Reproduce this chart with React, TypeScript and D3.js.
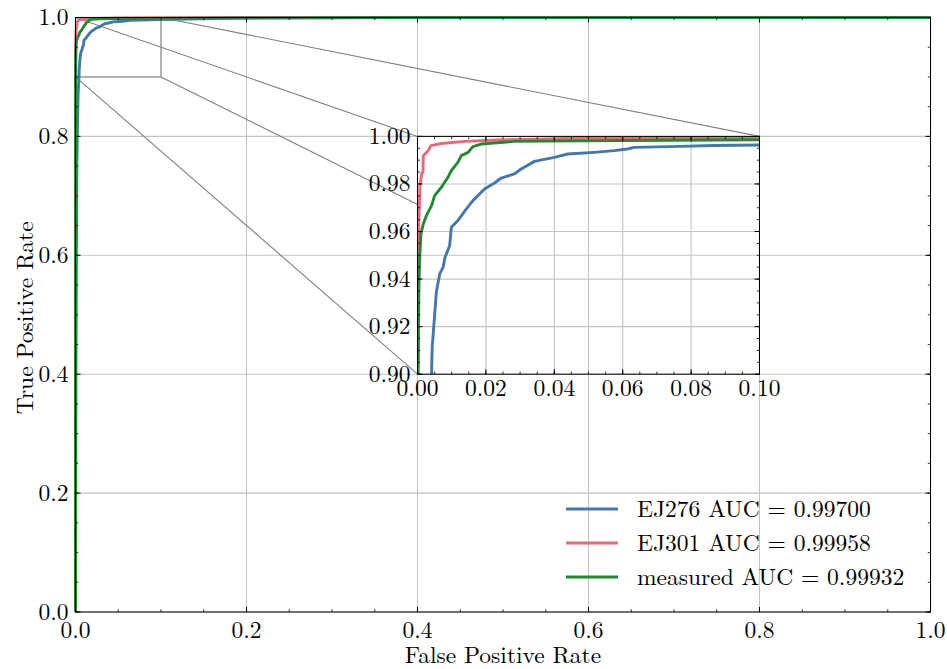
import React from "react";
import * as d3 from "d3";

// ---- data ----
const seriesNames = ["EJ276 AUC = 0.99700", "EJ301 AUC = 0.99958", "measured AUC = 0.99932"];
const seriesColors = ["#4477AA", "#EE6677", "#228833"];

const ej276Fpr = [0, 0.0005, 0.0015, 0.003, 0.0041, 0.0043, 0.0049, 0.0055, 0.0065, 0.0075, 0.008, 0.0094, 0.0099, 0.0118, 0.0143, 0.0162, 0.0196, 0.0225, 0.0245, 0.0283, 0.0303, 0.0342, 0.04, 0.0439, 0.0517, 0.0575, 0.0614, 0.0633, 0.0769, 0.0866, 0.1, 0.13, 0.18, 0.28, 0.4, 1.0];
const ej276Tpr = [0, 0.4, 0.75, 0.87, 0.9, 0.9115, 0.9227, 0.9345, 0.9422, 0.945, 0.949, 0.954, 0.9618, 0.9646, 0.9695, 0.973, 0.9779, 0.9804, 0.9825, 0.9842, 0.9863, 0.9895, 0.9912, 0.9926, 0.9933, 0.994, 0.9947, 0.9954, 0.9958, 0.9962, 0.9964, 0.9975, 0.9988, 0.9996, 1.0, 1.0];

const ej301Fpr = [0, 0, 0.0002, 0.0004, 0.0007, 0.0012, 0.0016, 0.0017, 0.0031, 0.0039, 0.007, 0.0138, 0.0235, 0.038, 0.048, 0.1, 0.2, 1.0];
const ej301Tpr = [0, 0.9, 0.95, 0.9646, 0.9786, 0.9842, 0.985, 0.9919, 0.994, 0.9961, 0.997, 0.9979, 0.9985, 0.9989, 0.9993, 0.9996, 1.0, 1.0];

const measFpr = [0, 0.0001, 0.0002, 0.0004, 0.0007, 0.001, 0.0017, 0.0026, 0.0041, 0.005, 0.007, 0.0089, 0.0099, 0.0118, 0.0128, 0.0148, 0.0162, 0.0186, 0.0283, 0.0478, 0.1, 0.2, 0.4, 1.0];
const measTpr = [0, 0.5, 0.9, 0.9366, 0.9506, 0.959, 0.9632, 0.9667, 0.9709, 0.9751, 0.9786, 0.9828, 0.9856, 0.9891, 0.9919, 0.9933, 0.9957, 0.9968, 0.9979, 0.9982, 0.9986, 0.9994, 1.0, 1.0];

const mainTicks = [0, 0.2, 0.4, 0.6, 0.8, 1.0];
const mainTickLabels = ["0.0", "0.2", "0.4", "0.6", "0.8", "1.0"];
const insetXTicks = [0, 0.02, 0.04, 0.06, 0.08, 0.1];
const insetXTickLabels = ["0.00", "0.02", "0.04", "0.06", "0.08", "0.10"];
const insetYTicks = [0.9, 0.92, 0.94, 0.96, 0.98, 1.0];
const insetYTickLabels = ["0.90", "0.92", "0.94", "0.96", "0.98", "1.00"];
const xLabel = "False Positive Rate";
const yLabel = "True Positive Rate";

const series = [
  { fpr: ej276Fpr, tpr: ej276Tpr },
  { fpr: ej301Fpr, tpr: ej301Tpr },
  { fpr: measFpr, tpr: measTpr },
];

const W = 947;
const H = 669;
const FONT = "'Latin Modern Roman', 'Liberation Serif', serif";
const FS = 23.5;

export default function App() {
  const x = d3.scaleLinear().domain([0, 1]).range([75.5, 930.5]);
  const y = d3.scaleLinear().domain([0, 1]).range([612, 17.5]);
  const ix = d3.scaleLinear().domain([0, 0.1]).range([x(0.4), x(0.8)]);
  const iy = d3.scaleLinear().domain([0.9, 1.0]).range([y(0.4), y(0.8)]);

  const lineMain = (s: { fpr: number[]; tpr: number[] }) =>
    d3.line<number>().x((_, i) => x(s.fpr[i])).y((_, i) => y(s.tpr[i]))(s.fpr) || "";
  const lineInset = (s: { fpr: number[]; tpr: number[] }) =>
    d3.line<number>().x((_, i) => ix(s.fpr[i])).y((_, i) => iy(s.tpr[i]))(s.fpr) || "";

  const mainMinor = d3.range(0, 1.0001, 0.05);
  const insetMinorX = d3.range(0, 0.10001, 0.005);
  const insetMinorY = d3.range(0.9, 1.00001, 0.005);

  const [x0, x1] = x.range();
  const [y0, y1] = y.range();
  const [ix0, ix1] = ix.range();
  const [iy0, iy1] = iy.range();

  const gridColor = "#c4c4c4";
  const connColor = "#808080";
  const LW = 2.9;

  const rx0 = x(0), rx1 = x(0.1), ry0 = y(0.9), ry1 = y(1.0);
  const connectors = [
    [rx0, ry1, ix0, iy1],
    [rx1, ry1, ix1, iy1],
    [rx0, ry0, ix0, iy0],
    [rx1, ry0, ix1, iy0],
  ];

  const txt: React.CSSProperties = { fontFamily: FONT, fontSize: FS };

  return (
    <svg width={W} height={H} style={{ position: "absolute", left: 0, top: 0, background: "#fff" }}>
      <defs>
        <clipPath id="insetClip">
          <rect x={ix0} y={iy1} width={ix1 - ix0} height={iy0 - iy1} />
        </clipPath>
      </defs>
      <rect width={W} height={H} fill="#fff" />
      {mainTicks.map((t) => (
        <g key={"g" + t}>
          <line x1={x(t)} x2={x(t)} y1={y0} y2={y1} stroke={gridColor} strokeWidth={1.1} />
          <line x1={x0} x2={x1} y1={y(t)} y2={y(t)} stroke={gridColor} strokeWidth={1.1} />
        </g>
      ))}
      <rect x={rx0} y={ry1} width={rx1 - rx0} height={ry0 - ry1} fill="none" stroke={connColor} strokeWidth={1.2} />
      {connectors.map((c, i) => (
        <line key={"c" + i} x1={c[0]} y1={c[1]} x2={c[2]} y2={c[3]} stroke={connColor} strokeWidth={1.1} />
      ))}
      <rect x={ix0} y={iy1} width={ix1 - ix0} height={iy0 - iy1} fill="#fff" />
      <g clipPath="url(#insetClip)">
        {mainTicks.map((t) => (
          <g key={"gi" + t}>
            <line x1={x(t)} x2={x(t)} y1={y0} y2={y1} stroke={gridColor} strokeWidth={1.1} />
            <line x1={x0} x2={x1} y1={y(t)} y2={y(t)} stroke={gridColor} strokeWidth={1.1} />
          </g>
        ))}
        {insetXTicks.map((t) => (
          <line key={"igx" + t} x1={ix(t)} x2={ix(t)} y1={iy0} y2={iy1} stroke={gridColor} strokeWidth={1.1} />
        ))}
        {insetYTicks.map((t) => (
          <line key={"igy" + t} x1={ix0} x2={ix1} y1={iy(t)} y2={iy(t)} stroke={gridColor} strokeWidth={1.1} />
        ))}
      </g>

      {series.map((s, i) => (
        <path key={"m" + i} d={lineMain(s)} fill="none" stroke={seriesColors[i]} strokeWidth={LW} strokeLinejoin="round" />
      ))}

      <rect x={x0} y={y1} width={x1 - x0} height={y0 - y1} fill="none" stroke="#000" strokeWidth={1} />
      {mainTicks.map((t) => (
        <g key={"t" + t} stroke="#000" strokeWidth={1}>
          <line x1={x(t)} x2={x(t)} y1={y0} y2={y0 - 5} />
          <line x1={x(t)} x2={x(t)} y1={y1} y2={y1 + 5} />
          <line x1={x0} x2={x0 + 5} y1={y(t)} y2={y(t)} />
          <line x1={x1} x2={x1 - 5} y1={y(t)} y2={y(t)} />
        </g>
      ))}
      {mainMinor.map((t) => (
        <g key={"mt" + t} stroke="#000" strokeWidth={0.8}>
          <line x1={x(t)} x2={x(t)} y1={y0} y2={y0 - 2.7} />
          <line x1={x(t)} x2={x(t)} y1={y1} y2={y1 + 2.7} />
          <line x1={x0} x2={x0 + 2.7} y1={y(t)} y2={y(t)} />
          <line x1={x1} x2={x1 - 2.7} y1={y(t)} y2={y(t)} />
        </g>
      ))}
      {mainTicks.map((t, i) => (
        <text key={"xl" + t} x={x(t)} y={y0 + 25.5} textAnchor="middle" style={txt} fill="#000">
          {mainTickLabels[i]}
        </text>
      ))}
      {mainTicks.map((t, i) => (
        <text key={"yl" + t} x={x0 - 7} y={y(t) + 7.5} textAnchor="end" style={txt} fill="#000">
          {mainTickLabels[i]}
        </text>
      ))}
      <text x={(x0 + x1) / 2} y={663} textAnchor="middle" style={txt} fill="#000">
        {xLabel}
      </text>
      <text transform={`translate(33,${(y0 + y1) / 2 + 3}) rotate(-90)`} textAnchor="middle" style={txt} fill="#000">
        {yLabel}
      </text>

      <g clipPath="url(#insetClip)">
        {series.map((s, i) => (
          <path key={"i" + i} d={lineInset(s)} fill="none" stroke={seriesColors[i]} strokeWidth={LW} strokeLinejoin="round" />
        ))}
      </g>
      <rect x={ix0} y={iy1} width={ix1 - ix0} height={iy0 - iy1} fill="none" stroke="#000" strokeWidth={1} />
      {insetXTicks.map((t) => (
        <g key={"ixt" + t} stroke="#000" strokeWidth={1}>
          <line x1={ix(t)} x2={ix(t)} y1={iy0} y2={iy0 - 5} />
          <line x1={ix(t)} x2={ix(t)} y1={iy1} y2={iy1 + 5} />
        </g>
      ))}
      {insetYTicks.map((t) => (
        <g key={"iyt" + t} stroke="#000" strokeWidth={1}>
          <line x1={ix0} x2={ix0 + 5} y1={iy(t)} y2={iy(t)} />
          <line x1={ix1} x2={ix1 - 5} y1={iy(t)} y2={iy(t)} />
        </g>
      ))}
      {insetMinorX.map((t) => (
        <g key={"ixm" + t} stroke="#000" strokeWidth={0.8}>
          <line x1={ix(t)} x2={ix(t)} y1={iy0} y2={iy0 - 2.7} />
          <line x1={ix(t)} x2={ix(t)} y1={iy1} y2={iy1 + 2.7} />
        </g>
      ))}
      {insetMinorY.map((t) => (
        <g key={"iym" + t} stroke="#000" strokeWidth={0.8}>
          <line x1={ix0} x2={ix0 + 2.7} y1={iy(t)} y2={iy(t)} />
          <line x1={ix1} x2={ix1 - 2.7} y1={iy(t)} y2={iy(t)} />
        </g>
      ))}
      {insetXTicks.map((t, i) => (
        <text key={"ixl" + t} x={ix(t)} y={iy0 + 21.5} textAnchor="middle" style={txt} fill="#000">
          {insetXTickLabels[i]}
        </text>
      ))}
      {insetYTicks.map((t, i) => (
        <text key={"iyl" + t} x={ix0 - 7} y={iy(t) + 7.5} textAnchor="end" style={txt} fill="#000">
          {insetYTickLabels[i]}
        </text>
      ))}

      {seriesNames.map((n, i) => (
        <g key={"lg" + i} transform={`translate(0,${509 + i * 34})`}>
          <line x1={566} x2={618} y1={0} y2={0} stroke={seriesColors[i]} strokeWidth={3} />
          <text x={637} y={7.5} style={txt} fill="#000">
            {n}
          </text>
        </g>
      ))}
    </svg>
  );
}
